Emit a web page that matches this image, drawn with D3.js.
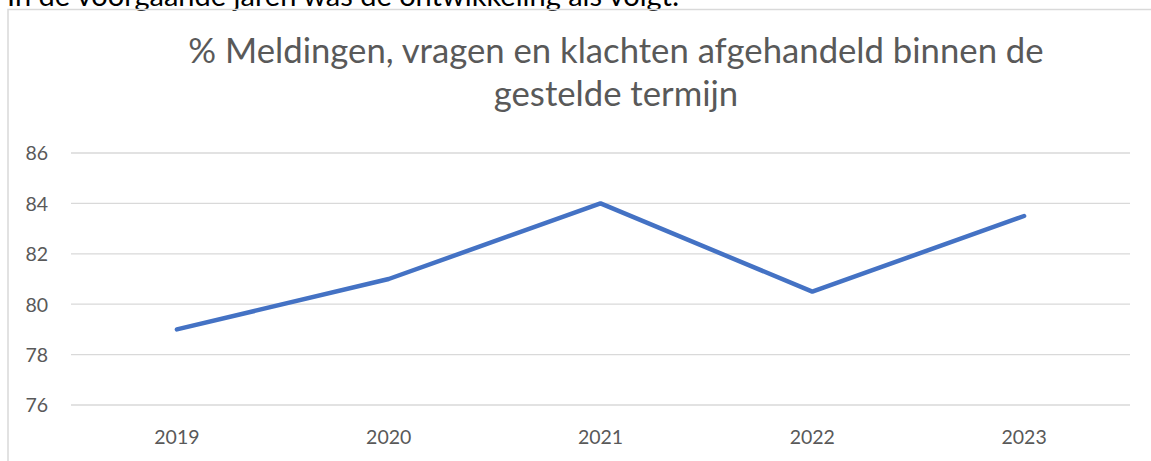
<html lang="nl">
<head>
  <meta charset="UTF-8"/>
  <title>Meldingen</title>
  <script src="https://d3js.org/d3.v7.min.js"></script>
  <style>
    body { margin: 0; background: #fff; overflow: hidden; }
    text { font-family: Lato, "Open Sans", sans-serif; }
  </style>
</head>
<body>
<svg id="chart"></svg>
<script>
  var years = ["2019", "2020", "2021", "2022", "2023"];
  var values = [79, 81, 84, 80.5, 83.5];
  var yTicks = [76, 78, 80, 82, 84, 86];

  var width = 1151, height = 461;
  var svg = d3.select("#chart").attr("width", width).attr("height", height)
      .style("display", "block");

  // intro sentence, cut off by the top edge
  svg.append("text")
      .attr("x", 7).attr("y", 6)
      .style("font-size", "29px")
      .style("fill", "#000")
      .text("In de voorgaande jaren was de ontwikkeling als volgt:");

  // chart frame (left and top edges only are in view)
  svg.append("path")
      .attr("d", "M8,461V9.5H1151")
      .style("fill", "none")
      .style("stroke", "#d9d9d9")
      .style("stroke-width", 1.5);

  var title = svg.append("text")
      .attr("text-anchor", "middle")
      .style("font-size", "34.7px")
      .style("fill", "#595959");
  title.append("tspan").attr("x", 616).attr("y", 63)
      .text("% Meldingen, vragen en klachten afgehandeld binnen de");
  title.append("tspan").attr("x", 616).attr("y", 106)
      .text("gestelde termijn");

  var x = d3.scaleBand().domain(years).range([71, 1130]);
  var y = d3.scaleLinear().domain([76, 86]).range([405, 153]);

  svg.append("g").selectAll("line")
      .data(yTicks)
      .join("line")
      .attr("x1", 71).attr("x2", 1130)
      .attr("y1", function(d){ return y(d); })
      .attr("y2", function(d){ return y(d); })
      .style("stroke", "#d9d9d9")
      .style("stroke-width", 1.3);

  var yAxis = svg.append("g")
      .attr("transform", "translate(48,0)")
      .call(d3.axisLeft(y).tickValues(yTicks).tickSize(0).tickPadding(0));
  yAxis.select(".domain").remove();
  yAxis.selectAll("text")
      .attr("dy", "0.35em")
      .style("font-size", "19.5px")
      .style("fill", "#595959");

  var xAxis = svg.append("g")
      .attr("transform", "translate(0,430)")
      .call(d3.axisBottom(x).tickSize(0).tickPadding(0));
  xAxis.select(".domain").remove();
  xAxis.selectAll("text")
      .attr("dy", "0.71em")
      .style("font-size", "19.5px")
      .style("fill", "#595959");

  var line = d3.line()
      .x(function(d, i){ return x(years[i]) + x.bandwidth() / 2; })
      .y(function(d){ return y(d); });

  svg.append("path")
      .datum(values)
      .attr("d", line)
      .style("fill", "none")
      .style("stroke", "#4472c4")
      .style("stroke-width", 4.5)
      .style("stroke-linecap", "round")
      .style("stroke-linejoin", "round");
</script>
</body>
</html>
